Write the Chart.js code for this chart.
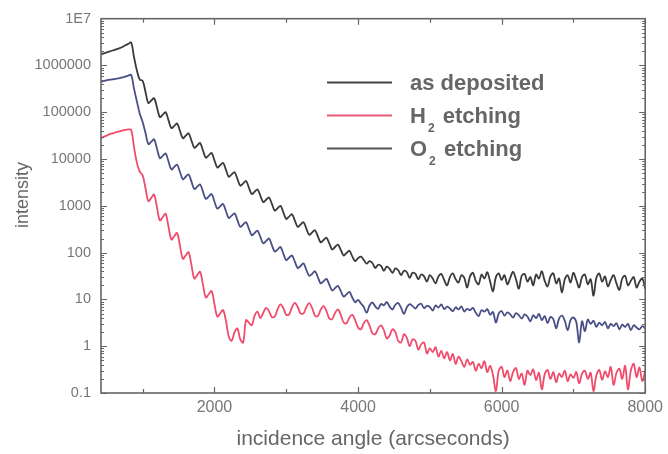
<!DOCTYPE html>
<html>
<head>
<meta charset="utf-8">
<script src="https://cdn.jsdelivr.net/npm/chart.js@4.4.0/dist/chart.umd.min.js"></script>
<style>
  html, body { margin: 0; padding: 0; background: #fff; }
  #wrap { width: 668px; height: 454px; }
</style>
</head>
<body>
<div id="wrap"><canvas id="chart" width="668" height="454"></canvas></div>
<script>
// incidence angle (arcseconds)
const angles = [
  400, 440, 480, 520, 560, 600, 640, 680, 720, 760,
  800, 840, 880, 920, 960, 1000, 1040, 1080, 1120, 1160,
  1200, 1240, 1280, 1320, 1360, 1400, 1440, 1480, 1520, 1560,
  1600, 1640, 1680, 1720, 1760, 1800, 1840, 1880, 1920, 1960,
  2000, 2040, 2080, 2120, 2160, 2200, 2240, 2280, 2320, 2360,
  2400, 2440, 2480, 2520, 2560, 2600, 2640, 2680, 2720, 2760,
  2800, 2840, 2880, 2920, 2960, 3000, 3040, 3080, 3120, 3160,
  3200, 3240, 3280, 3320, 3360, 3400, 3440, 3480, 3520, 3560,
  3600, 3640, 3680, 3720, 3760, 3800, 3840, 3880, 3920, 3960,
  4000, 4040, 4080, 4120, 4160, 4200, 4240, 4280, 4320, 4360,
  4400, 4440, 4480, 4520, 4560, 4600, 4640, 4680, 4720, 4760,
  4800, 4840, 4880, 4920, 4960, 5000, 5040, 5080, 5120, 5160,
  5200, 5240, 5280, 5320, 5360, 5400, 5440, 5480, 5520, 5560,
  5600, 5640, 5680, 5720, 5760, 5800, 5840, 5880, 5920, 5960,
  6000, 6040, 6080, 6120, 6160, 6200, 6240, 6280, 6320, 6360,
  6400, 6440, 6480, 6520, 6560, 6600, 6640, 6680, 6720, 6760,
  6800, 6840, 6880, 6920, 6960, 7000, 7040, 7080, 7120, 7160,
  7200, 7240, 7280, 7320, 7360, 7400, 7440, 7480, 7520, 7560,
  7600, 7640, 7680, 7720, 7760, 7800, 7840, 7880, 7920, 7960,
  8000
];

const asDeposited = [
  1.7e6, 1.78e6, 1.86e6, 1.95e6, 2.04e6, 2.14e6, 2.24e6, 2.34e6, 2.5e6, 2.7e6,
  2.9e6, 3.1e6, 1.5e6, 7.8e5, 5.0e5, 4.7e5, 2.72e5, 1.58e5, 1.78e5, 2.0e5,
  1.26e5, 7.9e4, 8.9e4, 1.0e5, 6.8e4, 4.6e4, 5.1e4, 5.75e4, 4.0e4, 2.8e4,
  3.16e4, 3.55e4, 2.48e4, 1.74e4, 1.95e4, 2.2e4, 1.53e4, 1.07e4, 1.2e4, 1.35e4,
  9.4e3, 6.6e3, 7.4e3, 8.3e3, 5.9e3, 4.2e3, 4.7e3, 5.25e3, 3.76e3, 2.7e3,
  3.0e3, 3.4e3, 2.45e3, 1.78e3, 2.0e3, 2.24e3, 1.64e3, 1.2e3, 1.35e3, 1.51e3,
  1100, 794, 891, 1000, 724, 525, 589, 661, 484, 355,
  398, 447, 327, 240, 269, 302, 224, 166, 186, 209,
  157, 117, 132, 148, 114, 87, 98, 110, 83, 66,
  76, 82, 70, 58, 66, 60, 47, 55, 52, 41,
  50, 45, 37, 46, 42, 33, 41, 38, 29, 37,
  35, 27, 34, 31, 24, 33, 28, 22, 31, 35,
  26, 20, 30, 36, 27, 23, 33, 29, 18, 31,
  37, 25, 21, 34, 28, 38, 24, 15, 30, 36,
  26, 33, 21, 29, 39, 27, 17, 32, 35, 24,
  30, 20, 34, 28, 40, 25, 19, 31, 36, 22,
  28, 14, 27, 33, 23, 37, 26, 18, 30, 34,
  21, 27, 12, 29, 36, 24, 31, 19, 26, 33,
  22, 16, 28, 32, 20, 25, 30, 18, 24, 28,
  17
];

const h2Etching = [
  2.7e4, 2.9e4, 3.1e4, 3.3e4, 3.5e4, 3.6e4, 3.8e4, 3.9e4, 4.1e4, 4.2e4,
  4.3e4, 4.2e4, 1.8e4, 8.3e3, 5.4e3, 4.5e3, 2.37e3, 1.26e3, 1.48e3, 1.74e3,
  923, 490, 575, 676, 359, 191, 224, 263, 140, 74,
  87, 102, 54, 28, 33, 39, 20.7, 11, 12.9, 15.1,
  8.0, 4.3, 5.0, 5.9, 3.5, 1.6, 1.3, 2.0, 2.4, 1.4,
  1.2, 3.6, 3.2, 2.8, 4.5, 5.5, 4.0, 5.2, 6.6, 5.6,
  4.2, 4.3, 6.2, 7.8, 6.5, 4.7, 4.8, 6.8, 8.4, 6.9,
  5.0, 5.0, 6.8, 8.3, 6.6, 4.5, 4.4, 6.0, 7.2, 5.7,
  3.9, 3.8, 5.1, 6.1, 4.7, 3.2, 3.1, 4.1, 4.7, 3.6,
  2.5, 2.3, 3.1, 3.6, 2.75, 1.9, 1.8, 2.4, 2.8, 2.2,
  1.46, 1.7, 2.3, 2.0, 1.3, 1.2, 1.8, 1.5, 1.0, 1.4,
  1.3, 0.85, 1.1, 1.2, 0.7, 0.9, 0.75, 0.95, 0.6, 0.8,
  0.55, 0.75, 0.5, 0.68, 0.42, 0.6, 0.48, 0.36, 0.52, 0.4,
  0.46, 0.3, 0.42, 0.34, 0.48, 0.28, 0.38, 0.24, 0.11, 0.3,
  0.36, 0.22, 0.3, 0.18, 0.28, 0.34, 0.2, 0.26, 0.15, 0.3,
  0.24, 0.32, 0.19, 0.27, 0.12, 0.25, 0.31, 0.2, 0.28, 0.17,
  0.26, 0.22, 0.3, 0.18, 0.25, 0.21, 0.28, 0.16, 0.26, 0.3,
  0.2, 0.27, 0.11, 0.24, 0.31, 0.19, 0.29, 0.22, 0.36, 0.15,
  0.27, 0.33, 0.2, 0.38, 0.12, 0.3, 0.42, 0.22, 0.35, 0.18,
  0.3
];

const o2Etching = [
  4.5e5, 4.6e5, 4.75e5, 4.9e5, 5.0e5, 5.1e5, 5.25e5, 5.4e5, 5.6e5, 5.8e5,
  6.1e5, 6.3e5, 3.2e5, 1.7e5, 9.3e4, 6.2e4, 3.6e4, 2.09e4, 2.34e4, 2.63e4,
  1.66e4, 1.05e4, 1.17e4, 1.32e4, 8.9e3, 6.0e3, 6.8e3, 7.6e3, 5.3e3, 3.7e3,
  4.2e3, 4.7e3, 3.3e3, 2.29e3, 2.57e3, 2.88e3, 2.02e3, 1.41e3, 1.58e3, 1.78e3,
  1240, 871, 977, 1096, 776, 550, 617, 692, 495, 355,
  398, 447, 324, 234, 263, 295, 216, 158, 178, 200,
  145, 105, 117, 132, 95, 69, 78, 87, 64, 47,
  52, 59, 43, 32, 35, 40, 30, 22, 24.5, 27.5,
  20.7, 15.5, 17.4, 19.5, 15, 11.5, 12.9, 14.5, 11, 8.7,
  9.8, 8.2, 6.9, 5.2, 7.4, 8.6, 7.1, 6.3, 8.0, 7.5,
  8.8, 7.0, 6.1, 7.7, 8.4, 6.6, 4.9, 6.8, 7.9, 7.2,
  6.4, 7.6, 8.1, 6.5, 7.3, 6.9, 5.8, 7.4, 6.7, 7.8,
  6.2, 7.0, 6.4, 5.6, 6.8, 6.1, 7.1, 5.5, 6.3, 5.9,
  6.6, 5.2, 4.4, 5.9, 5.5, 6.2, 4.7, 5.4, 3.2, 5.0,
  5.6, 4.5, 5.3, 4.8, 4.1, 5.1, 4.6, 3.9, 4.8, 4.3,
  3.4, 4.6, 4.0, 4.9, 3.6, 4.4, 3.1, 4.2, 3.8, 2.4,
  3.9, 4.5, 3.5, 2.2, 3.6, 4.1, 3.3, 1.2, 3.4, 2.1,
  3.7, 3.0, 3.5, 2.6, 3.2, 2.8, 3.3, 2.4, 3.0, 2.7,
  3.1, 2.3, 2.9, 2.6, 3.0, 2.2, 2.8, 2.5, 2.3, 2.7,
  2.4
];

const xTicks = [2000, 4000, 6000, 8000];
const xMinorTicks = [1000, 3000, 5000, 7000];
const yTicks = [0.1, 1, 10, 100, 1000, 10000, 100000, 1000000, 10000000];
const yTickLabels = ['0.1', '1', '10', '100', '1000', '10000', '100000', '1000000', '1E7'];

// legend text split as [base, subscript, rest]
const legendNames = [['as deposited', '', ''], ['H', '2', ' etching'], ['O', '2', ' etching']];
const seriesColors = ['#3b3b3b', '#f04d6c', '#4a5086'];
const legendColors = ['#444444', '#e85a77', '#555555'];

const FONT = '"Liberation Sans", Arial, Helvetica, sans-serif';

// frame with inward ticks on all four sides, like the original plot
const framePlugin = {
  id: 'frame',
  afterDatasetsDraw(chart) {
    const { ctx, chartArea: a, scales: { x, y } } = chart;
    ctx.save();
    ctx.strokeStyle = '#666';
    ctx.lineWidth = 1.2;
    ctx.beginPath();
    for (let d = -1; d < 7; d++) {
      for (let k = 1; k < 10; k++) {
        const py = Math.round(y.getPixelForValue(k * Math.pow(10, d))) + 0.5;
        const len = k === 1 ? 6 : 3;
        ctx.moveTo(a.left, py); ctx.lineTo(a.left + len, py);
        ctx.moveTo(a.right, py); ctx.lineTo(a.right - len, py);
      }
    }
    xTicks.concat(xMinorTicks).forEach(v => {
      const px = Math.round(x.getPixelForValue(v)) + 0.5;
      const len = xTicks.includes(v) ? 6 : 4;
      ctx.moveTo(px, a.bottom); ctx.lineTo(px, a.bottom - len);
      ctx.moveTo(px, a.top); ctx.lineTo(px, a.top + len);
    });
    ctx.stroke();
    ctx.lineWidth = 1.6;
    ctx.strokeRect(a.left, a.top, a.right - a.left, a.bottom - a.top);
    ctx.restore();
  },
  afterDraw(chart) {
    const ctx = chart.ctx;
    ctx.save();
    // y axis title
    ctx.fillStyle = '#666';
    ctx.font = '18px ' + FONT;
    ctx.textAlign = 'center';
    ctx.textBaseline = 'middle';
    ctx.translate(23, 195);
    ctx.rotate(-Math.PI / 2);
    ctx.fillText('intensity', 0, 0);
    ctx.restore();

    // legend
    ctx.save();
    ctx.textBaseline = 'alphabetic';
    ctx.textAlign = 'left';
    legendNames.forEach((parts, i) => {
      const ly = 82 + i * 33;
      ctx.strokeStyle = legendColors[i];
      ctx.lineWidth = 2;
      ctx.beginPath();
      ctx.moveTo(327, ly + 0.5);
      ctx.lineTo(392, ly + 0.5);
      ctx.stroke();
      ctx.fillStyle = '#666';
      let tx = 410;
      ctx.font = 'bold 22px ' + FONT;
      ctx.fillText(parts[0], tx, ly + 8);
      tx += ctx.measureText(parts[0]).width;
      if (parts[1]) {
        ctx.font = 'bold 12px ' + FONT;
        ctx.fillText(parts[1], tx + 2, ly + 17);
        tx += ctx.measureText(parts[1]).width + 4;
        ctx.font = 'bold 22px ' + FONT;
        ctx.fillText(parts[2], tx, ly + 8);
      }
    });
    ctx.restore();
  }
};

new Chart(document.getElementById('chart'), {
  type: 'line',
  data: {
    labels: angles,
    datasets: [
      { label: 'as deposited', data: asDeposited, borderColor: seriesColors[0] },
      { label: 'H2 etching', data: h2Etching, borderColor: seriesColors[1] },
      { label: 'O2 etching', data: o2Etching, borderColor: seriesColors[2] }
    ]
  },
  options: {
    responsive: false,
    animation: false,
    devicePixelRatio: 1,
    events: [],
    layout: { padding: { left: 0, right: 20, top: 16, bottom: 0 } },
    elements: {
      point: { radius: 0 },
      line: { borderWidth: 1.8, tension: 0.35, borderJoinStyle: 'round', capBezierPoints: true }
    },
    plugins: {
      legend: { display: false },
      tooltip: { enabled: false }
    },
    scales: {
      x: {
        type: 'linear',
        min: 420,
        max: 8000,
        grid: { display: false, drawTicks: false },
        border: { display: false },
        afterBuildTicks: s => { s.ticks = xTicks.map(v => ({ value: v })); },
        afterFit: s => { s.height = 61; },
        ticks: {
          autoSkip: false,
          maxRotation: 0,
          padding: 5,
          color: '#777',
          font: { family: FONT, size: 16 },
          callback: v => String(v)
        },
        title: {
          display: true,
          text: 'incidence angle (arcseconds)',
          color: '#666',
          font: { family: FONT, size: 21 },
          padding: { top: 0, bottom: 2 }
        }
      },
      y: {
        type: 'logarithmic',
        min: 0.1,
        max: 1e7,
        grid: { display: false, drawTicks: false },
        border: { display: false },
        afterBuildTicks: s => { s.ticks = yTicks.map(v => ({ value: v })); },
        afterFit: s => { s.width = 101; },
        ticks: {
          autoSkip: false,
          padding: 10,
          color: '#777',
          font: { family: FONT, size: 14.5 },
          callback: (v, i) => yTickLabels[i]
        }
      }
    }
  },
  plugins: [framePlugin]
});
</script>
</body>
</html>
